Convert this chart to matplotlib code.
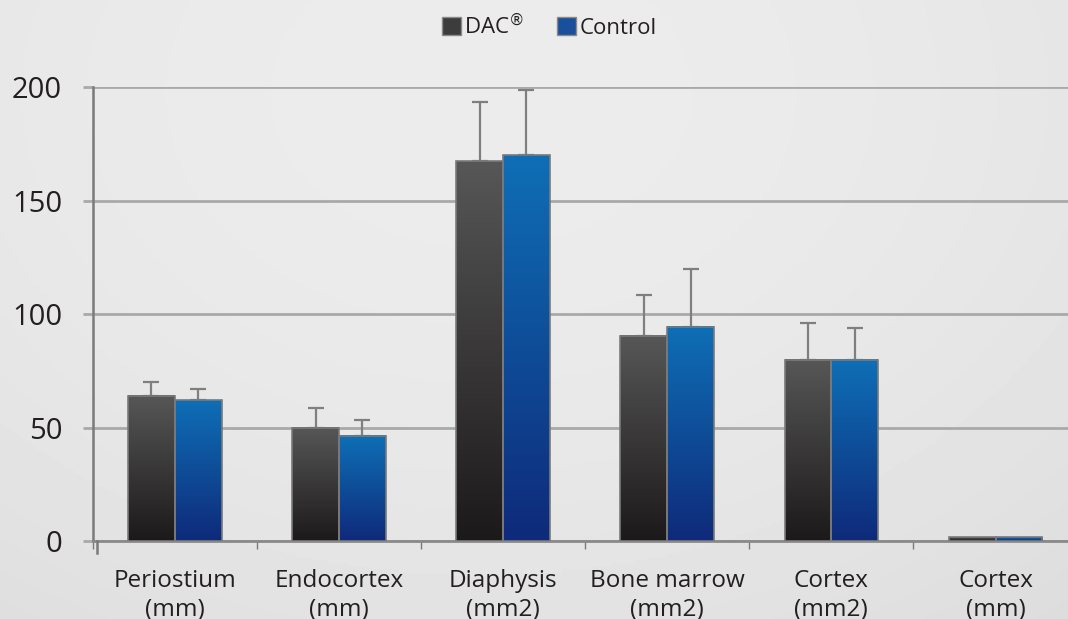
import numpy as np
import matplotlib
matplotlib.use("Agg")
import matplotlib.pyplot as plt
from matplotlib.colors import LinearSegmentedColormap
from matplotlib.patches import Patch

plt.rcParams["font.family"] = ["Open Sans", "DejaVu Sans"]

categories = ["Periostium\n(mm)", "Endocortex\n(mm)", "Diaphysis\n(mm2)",
              "Bone marrow\n(mm2)", "Cortex\n(mm2)", "Cortex\n(mm)"]
dac = [64, 50, 167.5, 90.5, 80, 1.7]
control = [62, 46.5, 170, 94.5, 80, 1.7]
dac_err = [6, 8.5, 26, 18, 16, 0]
control_err = [5, 7, 29, 25.5, 14, 0]
yticks = [0, 50, 100, 150, 200]

W, H = 1068, 619
fig = plt.figure(figsize=(W / 100, H / 100), dpi=100)

# soft grey backdrop
bg = fig.add_axes([0, 0, 1, 1], zorder=-10)
yy, xx = np.mgrid[0:1:200j, 0:1:300j]
shade = 0.925 - 0.05 * ((xx - 0.45) ** 2 * 1.6 + (yy - 0.15) ** 2)
bg.imshow(shade, cmap="gray", vmin=0, vmax=1, aspect="auto",
          extent=[0, 1, 0, 1], origin="upper")
bg.set_axis_off()

left = 92.7 / W
right = 1077.6 / W
bottom = (H - 541) / H
top = (H - 87.3) / H
ax = fig.add_axes([left, bottom, right - left, top - bottom])
ax.patch.set_alpha(0)

x = np.arange(len(categories))
bw = 0.285
grid_c = "#a7a9ab"

cm_dac = LinearSegmentedColormap.from_list("dac", ["#1c191a", "#575757"])
cm_ctl = LinearSegmentedColormap.from_list("ctl", ["#0e2a7a", "#0f6fb6"])
grad = np.linspace(0, 1, 256).reshape(-1, 1)

for vals, errs, off, cm in [(dac, dac_err, -bw / 2, cm_dac),
                            (control, control_err, bw / 2, cm_ctl)]:
    for xi, v, e in zip(x, vals, errs):
        x0 = xi + off - bw / 2
        ax.imshow(grad, cmap=cm, aspect="auto", origin="lower",
                  extent=[x0, x0 + bw, 0, v], zorder=3)
        if e > 0:
            ax.errorbar(xi + off, v, yerr=[[0], [e]], color="#7f7f7f",
                        lw=1.6, capsize=6, capthick=1.6, zorder=2)
    ax.bar(x + off, vals, bw, facecolor="none", edgecolor="#7a7a7a",
           lw=1.2, zorder=4)

ax.set_xlim(-0.474, 5.5)
ax.set_ylim(0, 200)
ax.set_yticks(yticks)
ax.set_yticklabels([str(t) for t in yticks], fontsize=21, color="#231f20")
ax.yaxis.grid(True, color=grid_c, lw=2.0, zorder=1)
ax.set_axisbelow(True)
ax.tick_params(axis="y", length=7, width=2.0, color=grid_c, pad=15)

ax.set_xticks(np.arange(-0.5, 6, 1.0))
ax.set_xticklabels([])
ax.set_xticks(x, minor=True)
ax.set_xticklabels(categories, minor=True, fontsize=17.5, color="#231f20",
                   linespacing=1.3)
ax.tick_params(axis="x", which="major", length=6, width=1, color="#7a7a7a",
               direction="out")
ax.tick_params(axis="x", which="minor", length=0, pad=20)

for s in ["top", "right"]:
    ax.spines[s].set_visible(False)
ax.spines["left"].set_color("#7a7a7a")
ax.spines["left"].set_linewidth(1.8)
ax.spines["bottom"].set_color("#8a8a8a")
ax.spines["bottom"].set_linewidth(2.0)
ax.plot([-0.474, -0.474], [0, -5.5], color="#7a7a7a", lw=1.8,
        clip_on=False, zorder=5)

handles = [Patch(facecolor="#3c3c3c", edgecolor="#8a8a8a", label=r"DAC$^{\circledR}$"),
           Patch(facecolor="#1a4f9c", edgecolor="#8a8a8a", label="Control")]
fig.legend(handles=handles, loc="center", bbox_to_anchor=(549 / W, 1 - 26 / H),
           ncol=2, frameon=False, fontsize=16, handlelength=0.85,
           handleheight=0.85, handletextpad=0.15, columnspacing=1.5,
           labelcolor="#231f20")

fig.savefig("out.png", dpi=100)
